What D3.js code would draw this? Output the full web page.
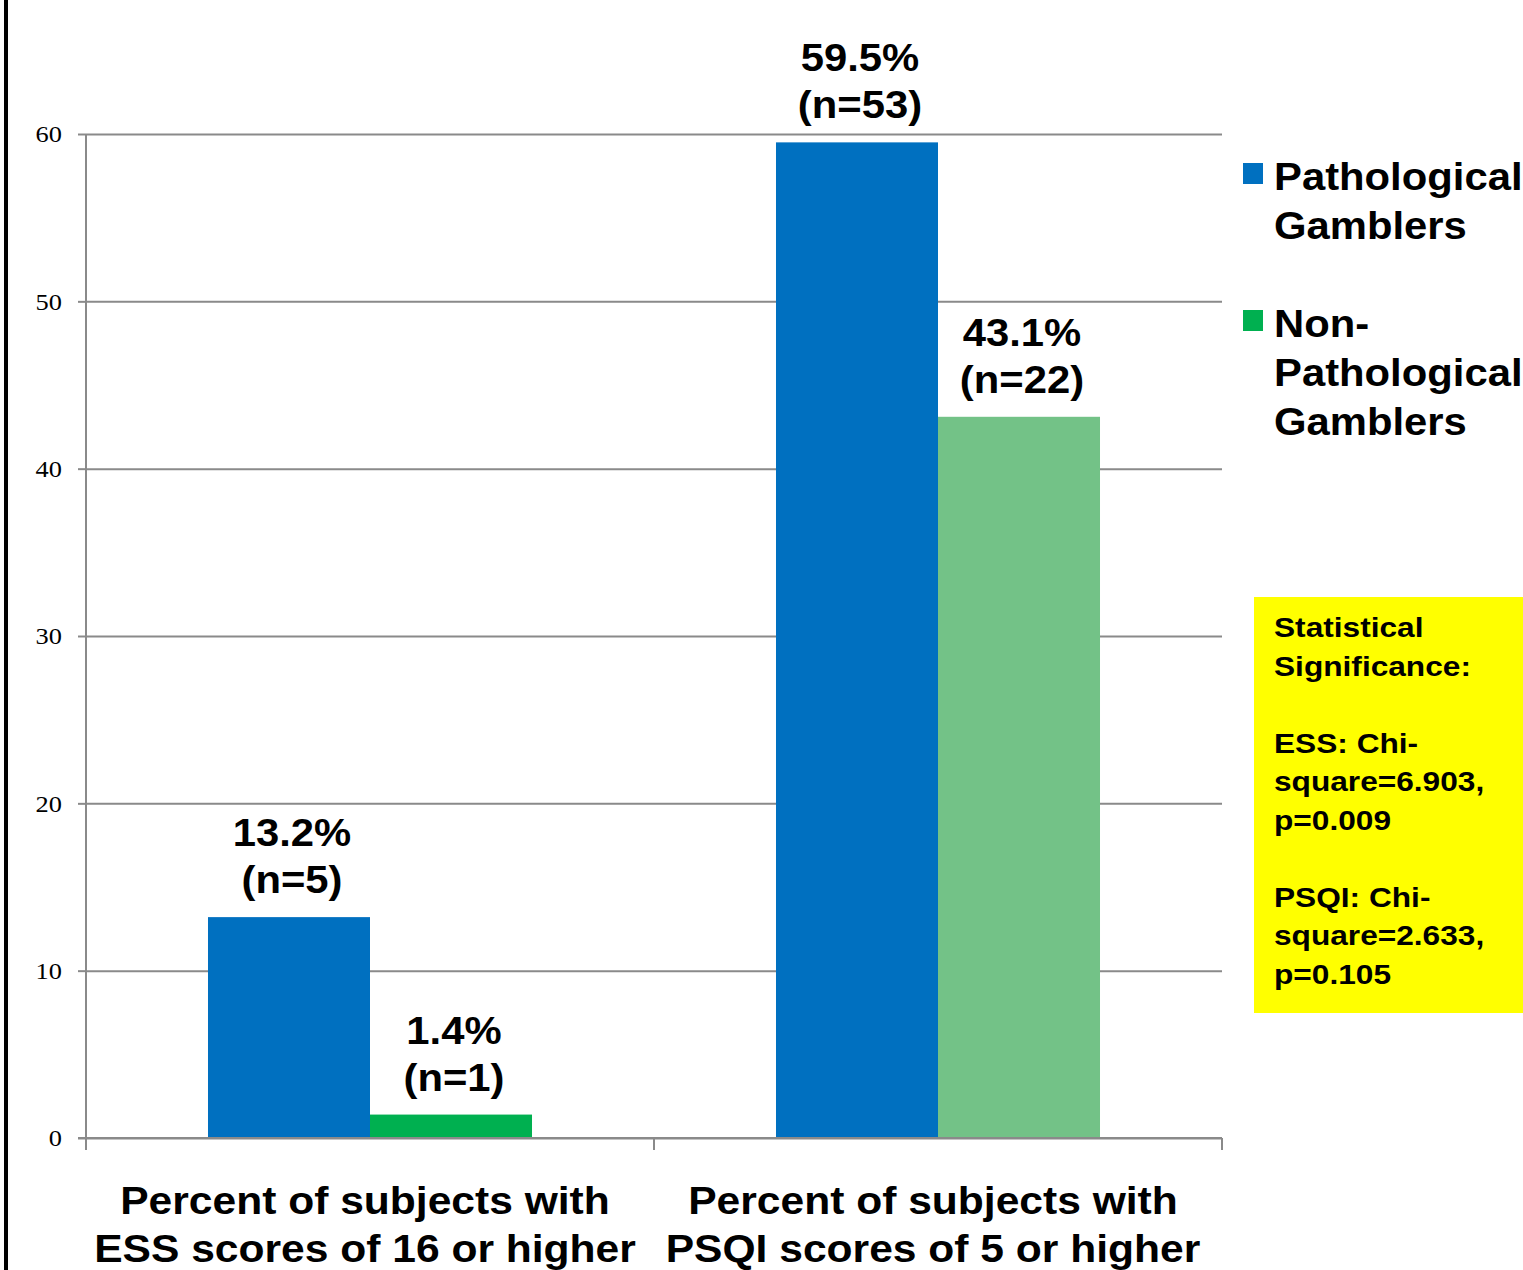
<!DOCTYPE html>
<html>
<head>
<meta charset="utf-8">
<script src="https://cdn.jsdelivr.net/npm/d3@7"></script>
<style>
  body { margin: 0; background: #fff; }
  svg { display: block; }
  text { font-family: "Liberation Sans", Arial, sans-serif; font-weight: bold; fill: #000; }
</style>
</head>
<body>
<svg id="chart" width="1523" height="1270"></svg>
<script>
// data
var categories = ["ESS", "PSQI"];
var categoryLabels = [
  ["Percent of subjects with", "ESS scores of 16 or higher"],
  ["Percent of subjects with", "PSQI scores of 5 or higher"]
];
var seriesNames = ["Pathological Gamblers", "Non-Pathological Gamblers"];
var legendLines = [["Pathological", "Gamblers"], ["Non-", "Pathological", "Gamblers"]];
var pathological = [13.2, 59.5];
var nonPathological = [1.4, 43.1];
var pathologicalN = [5, 53];
var nonPathologicalN = [1, 22];
var yTicks = [0, 10, 20, 30, 40, 50, 60];
var statsLines = ["Statistical", "Significance:", "", "ESS: Chi-", "square=6.903,", "p=0.009", "", "PSQI: Chi-", "square=2.633,", "p=0.105"];

var blue = "#0070C0", green = "#00B050", lightGreen = "#73C287";
var gridColor = "#8a8a8a";

var svg = d3.select("#chart");

// the original is a bit wider than tall, stretch text horizontally
function stretch(sel, k) {
  sel.each(function() {
    var w = this.getComputedTextLength();
    d3.select(this).attr("textLength", w * (k || 1.1)).attr("lengthAdjust", "spacingAndGlyphs");
  });
}

// left frame line
svg.append("rect").attr("x", 4).attr("y", 0).attr("width", 4).attr("height", 1270).attr("fill", "#000");

var x = d3.scaleBand().domain(categories).range([86, 1222]).padding(0);
var xs = d3.scaleBand().domain(seriesNames).range([0, x.bandwidth()]).paddingInner(0).paddingOuter(0.753);
var y = d3.scaleLinear().domain([0, 60]).range([1138, 134]);

// gridlines
var grid = svg.append("g").attr("transform", "translate(86,0)")
  .call(d3.axisLeft(y).tickValues(yTicks).tickSize(-1136).tickFormat(""));
grid.select(".domain").remove();
grid.selectAll("line").attr("stroke", gridColor).attr("stroke-width", 2);

// y axis
var yAxis = svg.append("g").attr("transform", "translate(86,0)")
  .call(d3.axisLeft(y).tickValues(yTicks).tickSize(8).tickPadding(16));
yAxis.select(".domain").attr("stroke", gridColor).attr("stroke-width", 2).attr("d", "M0,134V1138");
yAxis.selectAll("line").attr("stroke", gridColor).attr("stroke-width", 2);
yAxis.selectAll("text")
  .style("font-family", "'Liberation Serif', 'Times New Roman', serif")
  .style("font-weight", "normal")
  .attr("font-size", 24).attr("fill", "#000").call(stretch);

// bars
var rows = categories.map(function(c, i) {
  return [
    { cat: c, s: seriesNames[0], v: pathological[i], n: pathologicalN[i], color: blue },
    { cat: c, s: seriesNames[1], v: nonPathological[i], n: nonPathologicalN[i], color: i === 0 ? green : lightGreen }
  ];
});
var bars = d3.merge(rows);

svg.append("g").selectAll("rect").data(bars).join("rect")
  .attr("x", function(d) { return x(d.cat) + xs(d.s); })
  .attr("y", function(d) { return y(d.v); })
  .attr("width", xs.bandwidth())
  .attr("height", function(d) { return y(0) - y(d.v); })
  .attr("fill", function(d) { return d.color; });

// x axis line + boundary ticks
svg.append("line").attr("x1", 78).attr("x2", 1222).attr("y1", y(0)).attr("y2", y(0))
  .attr("stroke", gridColor).attr("stroke-width", 2);
var bounds = categories.map(function(c) { return x(c); }).concat([x(categories[categories.length - 1]) + x.bandwidth()]);
svg.append("g").selectAll("line").data(bounds).join("line")
  .attr("x1", function(d) { return d; }).attr("x2", function(d) { return d; })
  .attr("y1", y(0)).attr("y2", y(0) + 12)
  .attr("stroke", gridColor).attr("stroke-width", 2);

// category labels
categories.forEach(function(c, i) {
  categoryLabels[i].forEach(function(line, j) {
    svg.append("text").attr("class", "catlab")
      .attr("x", x(c) + x.bandwidth() / 2 - 5).attr("y", 1214 + j * 48)
      .attr("text-anchor", "middle").attr("font-size", 38).text(line);
  });
});
svg.selectAll(".catlab").call(stretch, 1.12);

// value labels
var lab = svg.append("g").selectAll("g").data(bars).join("g")
  .attr("transform", function(d) {
    return "translate(" + (x(d.cat) + xs(d.s) + xs.bandwidth() / 2 + 3) + "," + (y(d.v) - 24) + ")";
  });
lab.append("text").attr("text-anchor", "middle").attr("font-size", 38).attr("y", -47)
  .text(function(d) { return d.v.toFixed(1) + "%"; });
lab.append("text").attr("text-anchor", "middle").attr("font-size", 38).attr("y", 0)
  .text(function(d) { return "(n=" + d.n + ")"; });
lab.selectAll("text").call(stretch, 1.1);

// legend
var legColors = [blue, green];
var legTop = [163, 310];
seriesNames.forEach(function(s, i) {
  var g = svg.append("g").attr("transform", "translate(1243," + legTop[i] + ")");
  g.append("rect").attr("width", 20).attr("height", 21).attr("fill", legColors[i]);
  legendLines[i].forEach(function(line, j) {
    g.append("text").attr("class", "leg").attr("x", 31).attr("y", 27 + j * 49)
      .attr("font-size", 38).text(line);
  });
});
svg.selectAll(".leg").call(stretch, 1.1);

// statistics box
svg.append("rect").attr("x", 1254).attr("y", 597).attr("width", 280).attr("height", 416).attr("fill", "#FFFF00");
statsLines.forEach(function(line, i) {
  if (!line) return;
  svg.append("text").attr("class", "stat").attr("x", 1274).attr("y", 637 + i * 38.5)
    .attr("font-size", 28).text(line);
});
svg.selectAll(".stat").call(stretch, 1.13);
</script>
</body>
</html>
